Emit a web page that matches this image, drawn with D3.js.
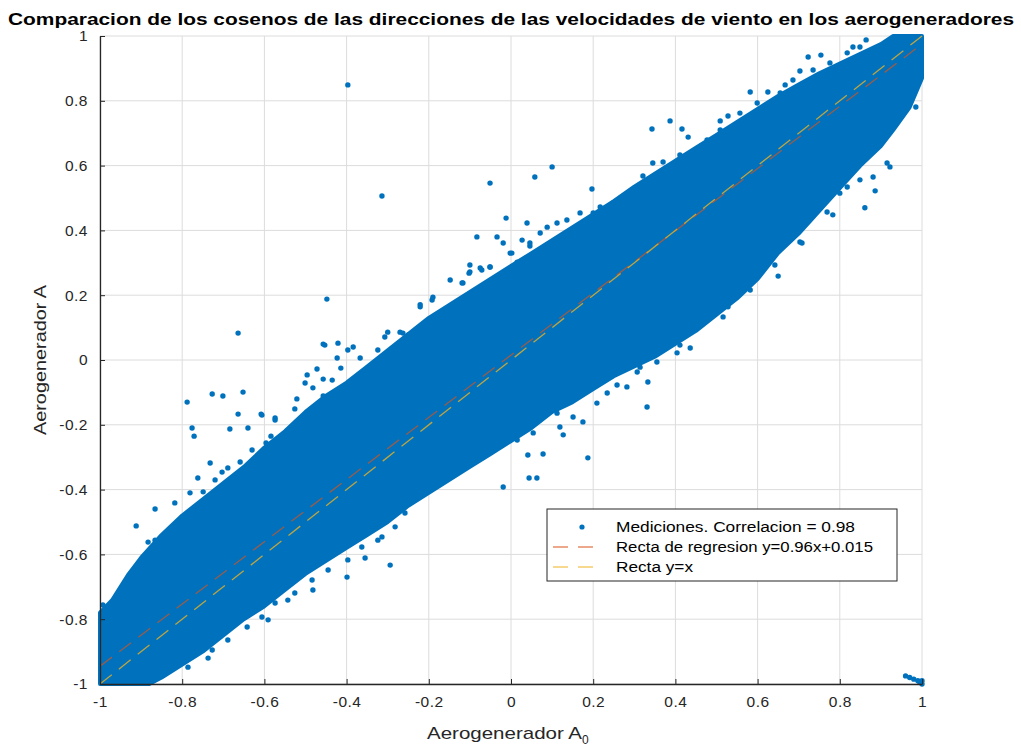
<!DOCTYPE html>
<html><head><meta charset="utf-8">
<script src="https://cdn.jsdelivr.net/npm/d3@7"></script>
<style>body{margin:0;background:#fff}svg{display:block}text{font-family:"Liberation Sans",Arial,Helvetica,sans-serif}</style>
</head><body>
<script>
// ---- data ----
const titleText = "Comparacion de los cosenos de las direcciones de las velocidades de viento en los aerogeneradores";
const xLabelText = "Aerogenerador A";
const xLabelSub = "0";
const yLabelText = "Aerogenerador A";
const tickValues = [-1,-0.8,-0.6,-0.4,-0.2,0,0.2,0.4,0.6,0.8,1];
const tickLabels = ["-1","-0.8","-0.6","-0.4","-0.2","0","0.2","0.4","0.6","0.8","1"];
const legendLabels = ["Mediciones. Correlacion = 0.98","Recta de regresion y=0.96x+0.015","Recta y=x"];

// dense core of the measurement cloud (upper and lower envelopes)
const bandUpperX = [-1,-0.97,-0.93,-0.9,-0.85,-0.8,-0.75,-0.7,-0.65,-0.6,-0.55,-0.5,-0.45,-0.4,-0.35,-0.3,-0.25,-0.2,-0.15,-0.1,-0.05,0,
  0.05,0.1,0.15,0.2,0.25,0.3,0.35,0.4,0.45,0.5,0.55,0.6,0.65,0.7,0.75,0.8,0.85,0.9,0.93,1];
const bandUpperY = [-0.78,-0.74,-0.66,-0.61,-0.54,-0.48,-0.43,-0.38,-0.33,-0.27,-0.22,-0.16,-0.11,-0.07,-0.02,0.03,0.08,0.13,0.17,0.21,0.25,0.29,
  0.33,0.37,0.41,0.45,0.49,0.535,0.575,0.615,0.655,0.695,0.735,0.775,0.815,0.85,0.885,0.915,0.945,0.975,1,1];
const bandLowerX = [1,0.97,0.93,0.9,0.85,0.8,0.75,0.7,0.65,0.6,0.55,0.5,0.45,0.4,0.35,0.3,0.25,0.2,0.15,0.1,0.05,0,
  -0.05,-0.1,-0.15,-0.2,-0.25,-0.3,-0.35,-0.4,-0.45,-0.5,-0.55,-0.6,-0.65,-0.7,-0.75,-0.8,-0.85,-0.88,-1];
const bandLowerY = [0.87,0.78,0.71,0.66,0.6,0.53,0.46,0.39,0.33,0.25,0.19,0.14,0.09,0.05,0.01,-0.02,-0.05,-0.09,-0.13,-0.16,-0.21,-0.25,
  -0.29,-0.33,-0.37,-0.41,-0.45,-0.5,-0.54,-0.58,-0.62,-0.66,-0.71,-0.76,-0.8,-0.85,-0.9,-0.94,-0.98,-1,-1];

// isolated measurements away from the dense core
const ptsX = [-0.397,-0.314,-0.051,0.058,0.10,0.197,-0.012,0.039,-0.083,-0.034,-0.019,0.002,0.027,0.046,-0.1,-0.102,-0.075,-0.051,-0.117,-0.448,
 -0.664,-0.457,-0.421,-0.397,-0.384,-0.423,-0.414,-0.472,-0.496,-0.501,-0.457,-0.435,-0.482,-0.457,-0.521,-0.526,-0.788,-0.727,-0.701,-0.652,
 -0.664,-0.608,-0.776,-0.771,-0.684,-0.64,-0.574,-0.584,-0.596,-0.307,-0.3,-0.27,-0.25,-0.367,-0.324,
 -0.912,-0.866,-0.818,-0.983,-0.922,-0.883,-0.866,-0.8,-0.781,-0.762,-0.749,-0.732,-0.72,-0.703,-0.689,-0.659,-0.63,-0.606,-0.574,-0.557,-0.453,
 -0.737,-0.642,-0.591,-0.543,-0.482,-0.399,-0.355,-0.294,-0.314,-0.258,
 0.331,0.187,0.041,0.078,0.044,0.063,-0.019,0.175,0.151,0.127,0.209,0.258,0.307,0.333,0.355,0.404,0.436,0.411,
 -0.19,-0.221,-0.263,0.088,0.168,0.2,
 0.343,0.387,0.416,0.431,0.509,0.528,0.582,0.625,0.667,0.703,0.723,0.754,0.832,0.864,0.321,0.345,0.37,0.411,
 0.922,0.886,0.985,0.783,0.769,0.74,0.8,0.703,0.708,0.642,0.65,0.582,0.528,0.516,0.55,0.684,0.723,0.861,
 0.96,0.97,0.98,0.99,1.0,1.0,0.995];
const ptsY = [0.849,0.506,0.546,0.565,0.596,0.528,0.438,0.423,0.38,0.38,0.361,0.33,0.37,0.352,0.293,0.268,0.284,0.287,0.238,0.188,
 0.083,0.049,0.052,0.031,0.04,0.006,-0.025,-0.028,-0.046,-0.071,-0.059,-0.062,-0.086,-0.111,-0.12,-0.151,-0.13,-0.105,-0.111,-0.099,
 -0.167,-0.167,-0.21,-0.235,-0.213,-0.21,-0.179,-0.235,-0.256,0.071,0.086,0.086,0.077,0.006,0.031,
 -0.512,-0.46,-0.441,-0.762,-0.679,-0.562,-0.556,-0.485,-0.41,-0.364,-0.407,-0.318,-0.37,-0.346,-0.333,-0.315,-0.278,-0.17,-0.185,-0.238,0.046,
 -0.92,-0.824,-0.802,-0.741,-0.71,-0.67,-0.611,-0.633,-0.546,-0.472,
 -0.145,-0.302,-0.293,-0.29,-0.364,-0.364,-0.392,-0.191,-0.176,-0.231,-0.133,-0.077,-0.037,-0.068,-0.006,0.022,0.037,0.046,
 0.194,0.164,0.083,0.41,0.454,0.454,
 0.713,0.738,0.713,0.688,0.738,0.753,0.827,0.827,0.849,0.892,0.935,0.941,0.966,0.988,0.568,0.608,0.611,0.633,
 0.596,0.522,0.781,0.448,0.457,0.463,0.515,0.364,0.361,0.293,0.259,0.216,0.164,0.133,0.2,0.441,0.438,0.47,
 -0.975,-0.98,-0.985,-0.99,-0.99,-1.0,-0.995];

// measurements on the ragged edge of the dense core
const edgeX = [-0.221,-0.192,-0.148,-0.119,-0.1,-0.071,-0.051,-0.002,0.015,0.046,0.071,0.088,0.112,0.136,0.151,0.217,0.248,
 0.112,0.119,0.054,0.015,0.234,0.282,0.314,0.37,0.394,0.428,0.453,
 -0.606,-0.574,-0.526,-0.484,-0.445,-0.397,-0.363,-0.324,-0.282,-0.689,-0.727,-0.786,
 -0.993,-0.964,-0.932,-0.898,-0.866,-0.835,-0.8,-0.769,-0.737,-0.703,-0.672,-0.64,-0.606,-0.574,-0.55,-0.518,-0.484,-0.453,-0.428,-0.397,-0.363,-0.331,-0.3,-0.265,
 0.436,0.477,0.509,0.557,0.599,0.655,0.686,0.735,0.776,0.818,0.849,0.394,0.355,
 0.655,0.679,0.72,0.752,0.818,0.849,0.881,0.915,0.623,0.599,0.557,0.516,0.477,0.443];
const edgeY = [0.171,0.185,0.247,0.238,0.272,0.278,0.287,0.33,0.302,0.361,0.392,0.349,0.423,0.432,0.392,0.472,0.485,
 -0.164,-0.207,-0.225,-0.247,-0.102,-0.083,-0.022,0.052,0.083,0.133,0.185,
 -0.793,-0.75,-0.719,-0.679,-0.648,-0.617,-0.577,-0.556,-0.515,-0.864,-0.895,-0.948,
 -0.756,-0.741,-0.701,-0.648,-0.596,-0.565,-0.534,-0.494,-0.472,-0.432,-0.401,-0.37,-0.349,-0.33,-0.278,-0.247,-0.207,-0.176,-0.133,-0.102,-0.062,-0.031,0,0.022,
 0.627,0.679,0.71,0.762,0.793,0.824,0.864,0.895,0.917,0.948,0.966,0.586,0.565,
 0.401,0.423,0.485,0.503,0.534,0.556,0.565,0.608,0.318,0.278,0.247,0.216,0.176,0.133];

// regression line and identity line (end points)
const regX = [-1, 1];
const regY = [-0.945, 0.975];
const idX = [-1, 1];
const idY = [-1, 1];

// ---- drawing ----
const W = 1021, H = 749;
const mLeft = 100, mRight = 922, mTop = 36, mBottom = 684;
const svg = d3.select("body").append("svg").attr("width", W).attr("height", H);
const x = d3.scaleLinear().domain([-1, 1]).range([mLeft, mRight]);
const y = d3.scaleLinear().domain([-1, 1]).range([mBottom, mTop]);
const blue = "#0072BD", axisCol = "#262626";

// grid
const grid = svg.append("g");
grid.selectAll("line.gx").data(tickValues).join("line").attr("class", "gx")
  .attr("x1", d => x(d)).attr("x2", d => x(d)).attr("y1", mTop).attr("y2", mBottom)
  .attr("stroke", "#dcdcdc").attr("stroke-width", 1);
grid.selectAll("line.gy").data(tickValues).join("line").attr("class", "gy")
  .attr("y1", d => y(d)).attr("y2", d => y(d)).attr("x1", mLeft).attr("x2", mRight)
  .attr("stroke", "#dcdcdc").attr("stroke-width", 1);

// dense band
const bandPts = bandUpperX.map((v, i) => [v, bandUpperY[i]])
  .concat(bandLowerX.map((v, i) => [v, bandLowerY[i]]));
svg.append("path")
  .attr("d", d3.line().x(d => x(d[0])).y(d => y(d[1])).curve(d3.curveLinearClosed)(bandPts))
  .attr("fill", blue).attr("stroke", blue).attr("stroke-width", 4).attr("stroke-linejoin", "round");

// individual points
const allPts = ptsX.map((v, i) => [v, ptsY[i]]).concat(edgeX.map((v, i) => [v, edgeY[i]]));
svg.append("g").selectAll("circle").data(allPts).join("circle")
  .attr("cx", d => x(d[0])).attr("cy", d => y(d[1])).attr("r", 2.7).attr("fill", blue);

// lines
const ln = d3.line().x(d => x(d[0])).y(d => y(d[1]));
svg.append("path").attr("d", ln(regX.map((v, i) => [v, regY[i]])))
  .attr("fill", "none").attr("stroke", "#D95319").attr("stroke-width", 1.3).attr("stroke-dasharray", "15,9").attr("opacity", 0.7);
svg.append("path").attr("d", ln(idX.map((v, i) => [v, idY[i]])))
  .attr("fill", "none").attr("stroke", "#EDB120").attr("stroke-width", 1.3).attr("stroke-dasharray", "15,9").attr("opacity", 0.8);

// axes
const xAxis = d3.axisBottom(x).tickValues(tickValues).tickFormat((d, i) => tickLabels[i]).tickSizeInner(-5).tickSizeOuter(0).tickPadding(12);
const yAxis = d3.axisLeft(y).tickValues(tickValues).tickFormat((d, i) => tickLabels[i]).tickSizeInner(-5).tickSizeOuter(0).tickPadding(12);
const gx = svg.append("g").attr("transform", `translate(0,${mBottom})`).call(xAxis);
const gy = svg.append("g").attr("transform", `translate(${mLeft},0)`).call(yAxis);
[gx, gy].forEach(g => {
  g.select(".domain").attr("stroke", axisCol).attr("stroke-width", 1.3);
  g.selectAll(".tick line").attr("stroke", axisCol).attr("stroke-width", 1);
  g.selectAll(".tick text").attr("fill", axisCol).style("font-size", "15.5px").style("letter-spacing", "0.5px")
    .style("font-family", '"Liberation Sans",Arial,sans-serif');
});

// title
svg.append("text").attr("x", 511).attr("y", 25).attr("text-anchor", "middle")
  .attr("textLength", 1006).attr("lengthAdjust", "spacingAndGlyphs")
  .style("font-size", "17px").style("font-weight", "bold").attr("fill", "#000").text(titleText);

// axis labels
const xl = svg.append("text").attr("x", 427).attr("y", 739).attr("fill", axisCol).style("font-size", "17px");
xl.append("tspan").attr("textLength", 155).attr("lengthAdjust", "spacingAndGlyphs").text(xLabelText);
xl.append("tspan").attr("dy", 5).style("font-size", "12px").text(xLabelSub);
svg.append("text").attr("transform", "translate(46,360) rotate(-90)").attr("text-anchor", "middle")
  .attr("textLength", 150).attr("lengthAdjust", "spacingAndGlyphs")
  .attr("fill", axisCol).style("font-size", "17px").text(yLabelText);

// legend
const lg = svg.append("g");
lg.append("rect").attr("x", 547).attr("y", 509).attr("width", 350).attr("height", 72)
  .attr("fill", "#fff").attr("stroke", axisCol).attr("stroke-width", 1);
const rowY = [527, 547, 567];
const textLens = [239, 257, 77];
lg.append("circle").attr("cx", 582).attr("cy", rowY[0]).attr("r", 2.6).attr("fill", blue);
lg.append("line").attr("x1", 553).attr("x2", 595).attr("y1", rowY[1]).attr("y2", rowY[1])
  .attr("stroke", "#D95319").attr("stroke-width", 1.2).attr("stroke-dasharray", "15,10");
lg.append("line").attr("x1", 553).attr("x2", 595).attr("y1", rowY[2]).attr("y2", rowY[2])
  .attr("stroke", "#EDB120").attr("stroke-width", 1.2).attr("stroke-dasharray", "15,10");
lg.selectAll("text.l").data(legendLabels).join("text").attr("class", "l")
  .attr("x", 616).attr("y", (d, i) => rowY[i] + 5)
  .attr("textLength", (d, i) => textLens[i]).attr("lengthAdjust", "spacingAndGlyphs")
  .attr("fill", "#000").style("font-size", "14px").text(d => d);
</script>
</body></html>
